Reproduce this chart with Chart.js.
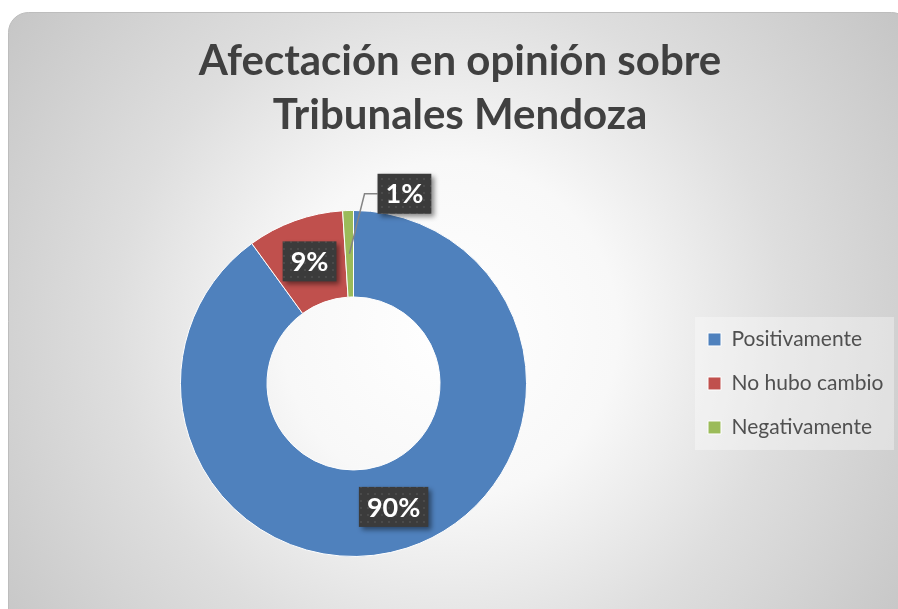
<!DOCTYPE html>
<html>
<head>
<meta charset="utf-8">
<script src="https://cdn.jsdelivr.net/npm/chart.js@4.4.0/dist/chart.umd.min.js"></script>
<style>
html,body{margin:0;padding:0;background:#ffffff;}
#wrap{width:898px;height:609px;}
</style>
</head>
<body>
<div id="wrap"><canvas id="c" width="898" height="609"></canvas></div>
<script>
// ---- data ----
const titleLines = ['Afectación en opinión sobre', 'Tribunales Mendoza'];
const categories = ['Positivamente', 'No hubo cambio', 'Negativamente'];
const percentages = [90, 9, 1];
const sliceColors = ['#4f81bd', '#c0504d', '#9bbb59'];

// ---- styles ----
const LABEL_OFFSETS = [[0, 0], [0, 0], [55, -60]]; // per-slice label displacement (px)
const FONT = 'Lato';

function makePattern(ctx) {
  const pc = document.createElement('canvas');
  pc.width = 7; pc.height = 7;
  const p = pc.getContext('2d');
  p.fillStyle = '#3b3b3b';
  p.fillRect(0, 0, 7, 7);
  p.fillStyle = '#4a4a4a';
  p.fillRect(3, 3, 2, 2);
  return ctx.createPattern(pc, 'repeat');
}

function roundRectPath(ctx, x, y, w, h, r) {
  ctx.beginPath();
  ctx.moveTo(x + r, y);
  ctx.lineTo(x + w - r, y);
  ctx.arcTo(x + w, y, x + w, y + r, r);
  ctx.lineTo(x + w, y + h - r);
  ctx.arcTo(x + w, y + h, x + w - r, y + h, r);
  ctx.lineTo(x + r, y + h);
  ctx.arcTo(x, y + h, x, y + h - r, r);
  ctx.lineTo(x, y + r);
  ctx.arcTo(x, y, x + r, y, r);
  ctx.closePath();
}

const backgroundPlugin = {
  id: 'bgPlugin',
  afterInit(chart) {
    const lg = chart.legend;
    if (lg) {
      const origFit = lg.fit.bind(lg);
      lg.fit = function () { origFit(); this.width = 213; };
    }
  },
  beforeDraw(chart) {
    const ctx = chart.ctx;
    const W = chart.width, H = chart.height;
    ctx.save();
    ctx.fillStyle = '#ffffff';
    ctx.fillRect(0, 0, W, H);
    const g = ctx.createRadialGradient(450, 330, 0, 450, 330, 560);
    g.addColorStop(0, '#ffffff');
    g.addColorStop(0.3, '#f8f8f8');
    g.addColorStop(0.6, '#dedede');
    g.addColorStop(1, '#c4c4c4');
    roundRectPath(ctx, 8.5, 12.5, 903, 620, 20);
    ctx.fillStyle = g;
    ctx.fill();
    ctx.strokeStyle = '#bdbdbd';
    ctx.lineWidth = 1;
    ctx.stroke();
    // legend panel
    const lg = chart.legend;
    if (lg && lg.legendHitBoxes && lg.legendHitBoxes.length) {
      const hb = lg.legendHitBoxes;
      const first = hb[0], last = hb[hb.length - 1];
      const x0 = first.left - 13;
      const y0 = first.top - 12;
      const x1 = lg.right - 4;
      const y1 = last.top + last.height + 12;
      ctx.fillStyle = 'rgba(255,255,255,0.35)';
      ctx.fillRect(x0, y0, x1 - x0, y1 - y0);
    }
    ctx.restore();
  }
};

const labelPlugin = {
  id: 'boxLabels',
  afterDatasetsDraw(chart) {
    const ctx = chart.ctx;
    const meta = chart.getDatasetMeta(0);
    const pattern = makePattern(ctx);
    const values = chart.data.datasets[0].data;
    const total = values.reduce((a, b) => a + b, 0);
    ctx.save();
    ctx.font = 'bold 27px ' + FONT;
    meta.data.forEach((arc, i) => {
      const p = arc.tooltipPosition();
      const off = LABEL_OFFSETS[i] || [0, 0];
      const text = Math.round(values[i] / total * 100) + '%';
      const tw = ctx.measureText(text).width;
      const bw = tw + 16, bh = 40;
      const cx = p.x + off[0], cy = p.y + off[1];
      const bx = cx - bw / 2, by = cy - bh / 2;
      if (off[0] !== 0 || off[1] !== 0) {
        ctx.beginPath();
        ctx.moveTo(p.x, p.y);
        ctx.lineTo(bx - 13, cy);
        ctx.lineTo(bx, cy);
        ctx.strokeStyle = '#858585';
        ctx.lineWidth = 1.5;
        ctx.stroke();
      }
      ctx.save();
      ctx.shadowColor = 'rgba(0,0,0,0.45)';
      ctx.shadowBlur = 5;
      ctx.shadowOffsetX = 3;
      ctx.shadowOffsetY = 3;
      ctx.fillStyle = pattern;
      ctx.fillRect(bx, by, bw, bh);
      ctx.restore();
      ctx.fillStyle = '#ffffff';
      ctx.textAlign = 'center';
      ctx.textBaseline = 'middle';
      ctx.fillText(text, cx, cy + 1);
    });
    ctx.restore();
  }
};

const ctx = document.getElementById('c').getContext('2d');
new Chart(ctx, {
  type: 'doughnut',
  data: {
    labels: categories,
    datasets: [{
      data: percentages,
      backgroundColor: sliceColors,
      borderColor: '#ffffff',
      borderWidth: 1
    }]
  },
  options: {
    responsive: false,
    devicePixelRatio: 1,
    animation: false,
    cutout: '50%',
    layout: { padding: { left: 22, right: 0, top: 0, bottom: 52 } },
    plugins: {
      title: {
        display: true,
        text: titleLines,
        color: '#404040',
        font: { family: FONT, size: 42, weight: 'bold', lineHeight: 1.285 },
        padding: { top: 34, bottom: 68 }
      },
      legend: {
        position: 'right',
        fullSize: false,
        align: 'center',
        labels: {
          boxWidth: 13,
          boxHeight: 13,
          padding: 23,
          color: '#505050',
          font: { family: FONT, size: 21 }
        }
      },
      tooltip: { enabled: false }
    }
  },
  plugins: [backgroundPlugin, labelPlugin]
});
</script>
</body>
</html>
